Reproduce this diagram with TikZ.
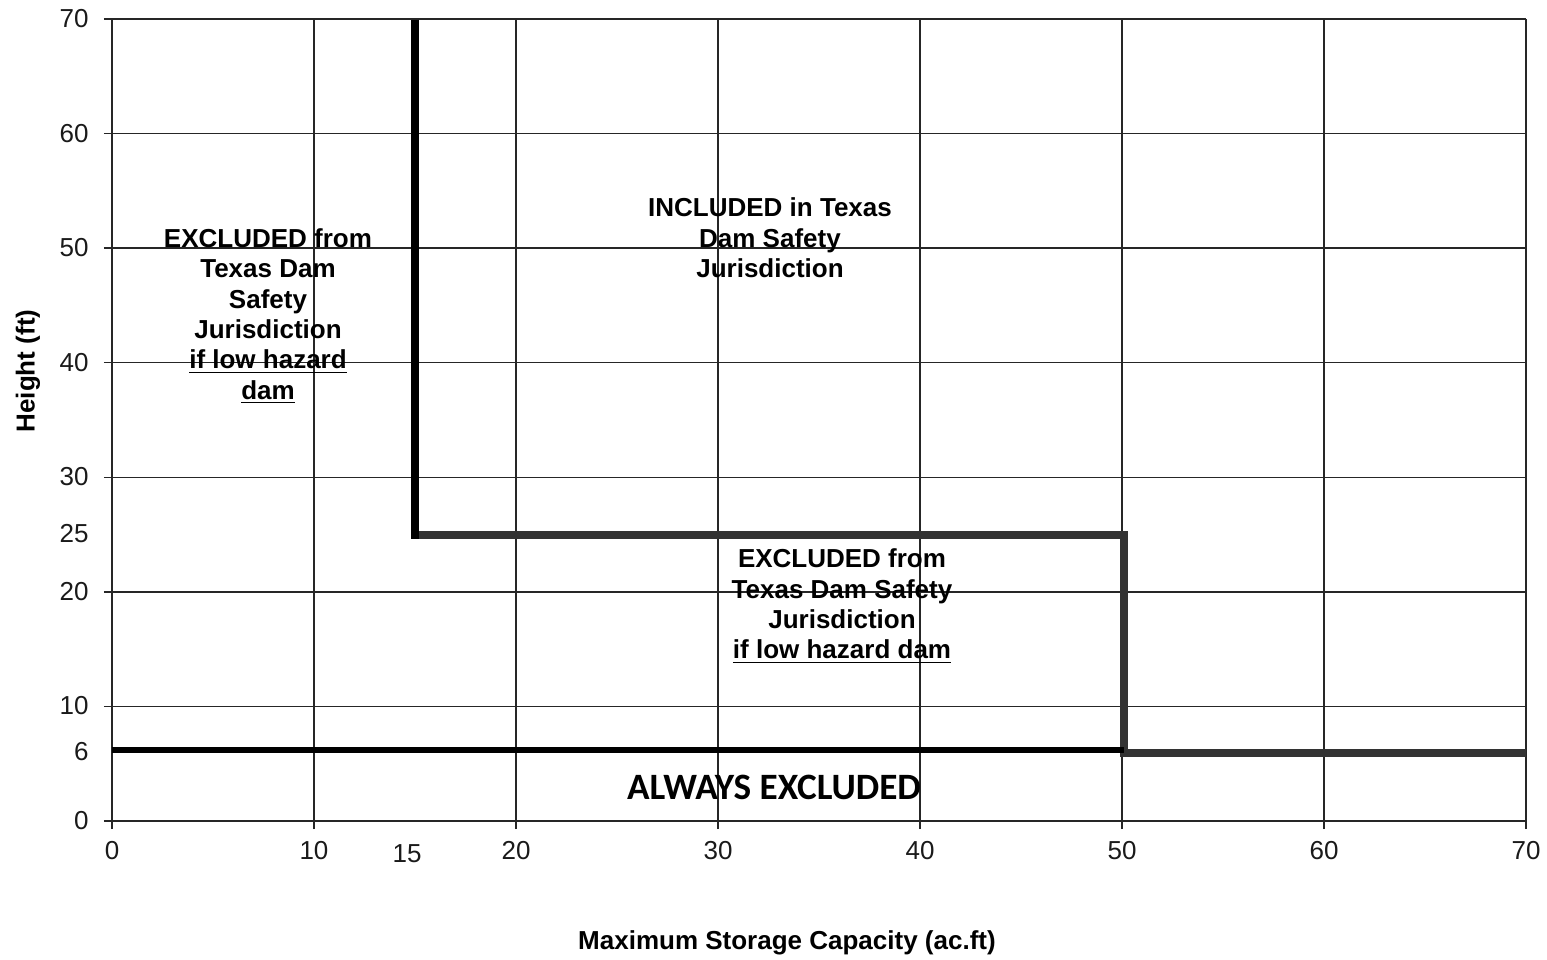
\documentclass[tikz,border=0pt]{standalone}
\usepackage{fontspec}
\setmainfont{Liberation Sans}
\newfontfamily\calib{Carlito}
\definecolor{darkline}{HTML}{333333}
\definecolor{ticktext}{HTML}{1A1A1A}
\tikzset{
  gridline/.style={line width=0.75pt, black!85},
  thickblack/.style={line width=4pt, black},
  thickgray/.style={line width=4pt, darkline},
  ticklabel/.style={font=\fontsize{13}{15}\selectfont, text=ticktext, inner sep=0pt},
  zonelabel/.style={font=\fontsize{13}{15.2}\selectfont\bfseries, align=center, inner sep=0pt},
}
\begin{document}
\begin{tikzpicture}[x=0.5pt, y=-0.5pt]
\useasboundingbox (0,0) rectangle (1547,959);
\fill[white] (0,0) rectangle (1547,959);
\begin{scope}[shift={(112,821)}, xscale=20.2, yscale=-11.4571]
  \foreach \v in {0,10,...,70} \draw[gridline] (-0.4,\v) -- (70,\v);
  \foreach \u in {0,10,...,70} \draw[gridline] (\u,-0.7) -- (\u,70);
  \coordinate (a) at (15,70);
  \coordinate (b) at (15,25);
  \coordinate (c) at (50.1,25);
  \coordinate (d) at (50.1,5.95);
  \coordinate (e) at (70,5.95);
  \coordinate (f) at (0,6.2);
  \coordinate (g) at (50.1,6.2);
  \draw[thickgray, line join=miter] (b) -- (c) -- (d) -- (e);
  \draw[thickblack, shorten >=-2pt] (a) -- (b);
  \draw[thickblack, line width=3.2pt] (f) -- (g);
\end{scope}
% y tick labels
\foreach \v/\yy in {70/19,60/134,50/248,40/363,30/477,25/534,20/592,10/706,6/752,0/821}
  \node[ticklabel, anchor=east] (yl\v) at (89,\yy) {\v};
% x tick labels
\foreach \u/\xx in {0/112,10/314,20/516,30/718,40/920,50/1122,60/1324,70/1526}
  \node[ticklabel] (xl\u) at (\xx,851) {\u};
\node[ticklabel] (xl15) at (407,854) {15};
% zone labels
\node[zonelabel] (left) at (268,316) {EXCLUDED from\\Texas Dam\\Safety\\Jurisdiction\\\underline{if low hazard}\\\underline{dam}};
\node[zonelabel] (top) at (770,238) {INCLUDED in Texas\\Dam Safety\\Jurisdiction};
\node[zonelabel] (mid) at (842,606) {EXCLUDED from\\Texas Dam Safety\\Jurisdiction\\\underline{if low hazard dam}};
\node[font=\calib\fontsize{18.6}{21}\selectfont\bfseries, inner sep=0pt] (always) at (774,787) {ALWAYS EXCLUDED};
% axis titles
\node[font=\fontsize{13}{15}\selectfont\bfseries, inner sep=0pt] (xtitle) at (787,943) {Maximum Storage Capacity (ac.ft)};
\node[font=\fontsize{13}{15}\selectfont\bfseries, inner sep=0pt, rotate=90] (ytitle) at (28,371) {Height (ft)};
\end{tikzpicture}
\end{document}
